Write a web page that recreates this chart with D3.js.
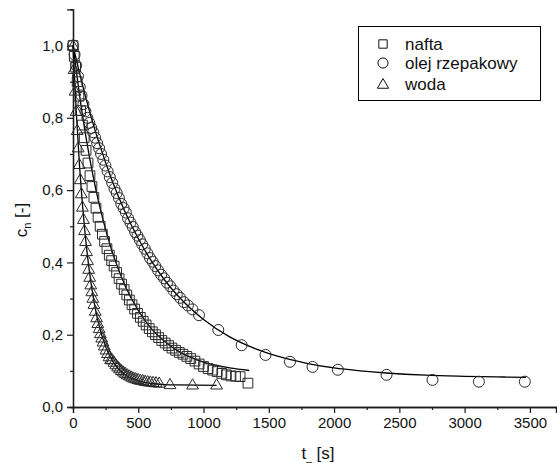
<!DOCTYPE html>
<html><head><meta charset="utf-8">
<script src="https://cdn.jsdelivr.net/npm/d3@7/dist/d3.min.js"></script>
<style>body{margin:0;background:#fff}svg{display:block;font-family:"Liberation Sans",Arial,sans-serif}</style>
</head><body><svg id="c" width="557" height="463"></svg>
<script>
// ---- data ----
const seriesNames = ["nafta", "olej rzepakowy", "woda"];
const naftaT = [0,10,20,32,45,58,72,86,100,115,130,145,160,176,192,208,225,242,260,278,296,315,334,353,372,392,412,432,452,472,494,516,538,560,584,608,632,656,680,706,732,758,786,814,842,872,902,934,966,1000,1035,1070,1105,1140,1175,1210,1245,1280,1340];
const naftaC = [1.0,0.97,0.94,0.90,0.86,0.82,0.78,0.745,0.71,0.675,0.64,0.61,0.58,0.55,0.525,0.50,0.478,0.458,0.438,0.42,0.405,0.39,0.372,0.355,0.34,0.325,0.31,0.296,0.283,0.271,0.259,0.248,0.237,0.227,0.217,0.208,0.200,0.192,0.184,0.177,0.170,0.163,0.157,0.151,0.146,0.140,0.134,0.127,0.119,0.112,0.106,0.102,0.098,0.093,0.089,0.086,0.085,0.084,0.066];
const olejT = [0,12,25,38,52,65,80,95,110,125,140,155,170,185,200,215,232,248,265,282,300,318,335,352,370,388,405,422,440,458,476,494,512,530,550,570,590,610,630,652,675,698,720,745,770,795,820,850,880,915,965,1113,1292,1475,1662,1835,2029,2402,2754,3109,3461];
const olejC = [1.0,0.975,0.945,0.915,0.885,0.862,0.838,0.818,0.800,0.786,0.772,0.760,0.745,0.730,0.716,0.700,0.684,0.668,0.652,0.636,0.620,0.604,0.592,0.578,0.562,0.550,0.538,0.522,0.510,0.498,0.484,0.474,0.462,0.450,0.438,0.425,0.412,0.402,0.390,0.378,0.366,0.356,0.344,0.334,0.322,0.312,0.302,0.290,0.281,0.270,0.254,0.213,0.171,0.144,0.125,0.111,0.103,0.089,0.075,0.070,0.070];
const wodaT = [0,8,16,24,32,40,48,56,64,72,80,88,96,104,112,120,128,136,144,152,160,170,180,190,200,210,220,230,240,252,264,276,288,300,314,328,342,356,370,385,400,416,432,448,464,480,498,516,534,552,572,592,614,636,660,743,916,1100];
const wodaC = [1.0,0.935,0.875,0.819,0.766,0.718,0.672,0.630,0.591,0.554,0.520,0.489,0.459,0.431,0.406,0.382,0.360,0.339,0.320,0.302,0.285,0.266,0.248,0.232,0.218,0.204,0.192,0.181,0.170,0.159,0.149,0.140,0.132,0.132,0.125,0.118,0.112,0.107,0.102,0.098,0.094,0.090,0.087,0.084,0.081,0.079,0.077,0.075,0.074,0.072,0.071,0.070,0.069,0.068,0.067,0.063,0.062,0.062];
// fitted curves
const naftaFitT = [0,50,100,150,200,250,300,400,500,600,700,800,900,1000,1100,1200,1350];
const naftaFitC = [1.0,0.863,0.745,0.646,0.562,0.491,0.430,0.335,0.267,0.217,0.182,0.156,0.138,0.124,0.115,0.108,0.101];
const olejFitT = [0,50,100,150,200,300,400,500,600,700,800,1000,1200,1400,1600,1800,2000,2200,2400,2700,3000,3300,3470];
const olejFitC = [1.0,0.924,0.853,0.789,0.730,0.626,0.539,0.466,0.404,0.352,0.309,0.242,0.194,0.161,0.137,0.120,0.108,0.100,0.094,0.088,0.085,0.083,0.082];
const wodaFitT = [0,25,50,75,100,125,150,175,200,250,300,350,400,450,500,600,700,800,1100];
const wodaFitC = [1.0,0.817,0.668,0.550,0.454,0.377,0.315,0.265,0.225,0.167,0.129,0.105,0.089,0.079,0.072,0.065,0.062,0.061,0.060];
const xTicks = [0,500,1000,1500,2000,2500,3000,3500];
const yTicks = [0.0,0.2,0.4,0.6,0.8,1.0];

// ---- drawing ----
const svg = d3.select("#c");
const x = d3.scaleLinear().domain([0,3700]).range([73,556]);
const y = d3.scaleLinear().domain([0,1.1]).range([407,9.4]);
const ink = "#1a1a1a";
const fmt = d => d3.format(".1f")(d).replace(".", ",");

// axes
const gx = svg.append("g").attr("transform","translate(0,407)");
gx.call(d3.axisBottom(x).tickValues(d3.range(250,3700,500)).tickSize(3).tickFormat(""));
gx.call(g=>g.append("g").call(d3.axisBottom(x).tickValues(xTicks).tickSize(6).tickPadding(4).tickFormat(d3.format("d"))));
const gy = svg.append("g").attr("transform","translate(73,0)");
gy.call(d3.axisLeft(y).tickValues([0.1,0.3,0.5,0.7,0.9]).tickSize(3).tickFormat(""));
gy.call(g=>g.append("g").call(d3.axisLeft(y).tickValues(yTicks).tickSize(6).tickPadding(4).tickFormat(fmt)));
svg.selectAll(".domain").attr("stroke",ink).attr("stroke-width",1.3);
svg.selectAll(".tick line").attr("stroke",ink).attr("stroke-width",1.2);
svg.selectAll(".tick text").attr("font-size",15).attr("fill","#111").attr("font-family","Liberation Sans, Arial, sans-serif");

// axis titles
const yt = svg.append("text").attr("transform","translate(27,220) rotate(-90)").attr("text-anchor","middle")
  .attr("font-size",17).attr("fill","#111");
yt.append("tspan").text("c");
yt.append("tspan").attr("font-size",11).attr("dy",4).text("n");
yt.append("tspan").attr("dy",-4).text(" [-]");
const xt = svg.append("text").attr("x",318).attr("y",459).attr("text-anchor","middle").attr("font-size",17).attr("fill","#111");
xt.append("tspan").text("t");
xt.append("tspan").attr("font-size",10).attr("dy",2).text("_");
xt.append("tspan").attr("dy",-2).text(" [s]");

// fitted lines
const line = d3.line().x(d=>x(d[0])).y(d=>y(d[1])).curve(d3.curveMonotoneX);
const fits = [[naftaFitT,naftaFitC],[olejFitT,olejFitC],[wodaFitT,wodaFitC]];
fits.forEach(([t,c])=>{
  svg.append("path").datum(t.map((v,i)=>[v,c[i]])).attr("d",line)
    .attr("fill","none").attr("stroke","#000").attr("stroke-width",1.3);
});

// markers
const sq = d3.symbol().type(d3.symbolSquare).size(95);
const ci = d3.symbol().type(d3.symbolCircle).size(95);
const tr = d3.symbol().type(d3.symbolTriangle).size(60);
function plot(t,c,sym,dy){
  svg.append("g").selectAll("path").data(t.map((v,i)=>[v,c[i]])).join("path")
    .attr("d",sym).attr("transform",d=>`translate(${x(d[0])},${y(d[1])+(dy||0)})`)
    .attr("fill","none").attr("stroke","#2a2a2a").attr("stroke-width",1);
}
plot(naftaT,naftaC,sq);
plot(olejT,olejC,ci);
plot(wodaT,wodaC,tr,1);

// legend
const lg = svg.append("g");
lg.append("rect").attr("x",358.5).attr("y",26.5).attr("width",182).attr("height",74)
  .attr("fill","#fff").attr("stroke","#000").attr("stroke-width",1);
const syms = [d3.symbol().type(d3.symbolSquare).size(70), d3.symbol().type(d3.symbolCircle).size(80), d3.symbol().type(d3.symbolTriangle).size(55)];
const rowsY = [44,63,84];
seriesNames.forEach((n,i)=>{
  lg.append("path").attr("d",syms[i]()).attr("transform",`translate(383,${rowsY[i]+(i==2?1:0)})`)
    .attr("fill","none").attr("stroke","#111").attr("stroke-width",1);
  lg.append("text").attr("x",405).attr("y",rowsY[i]+6).attr("font-size",17).attr("fill","#111").text(n);
});
</script></body></html>
